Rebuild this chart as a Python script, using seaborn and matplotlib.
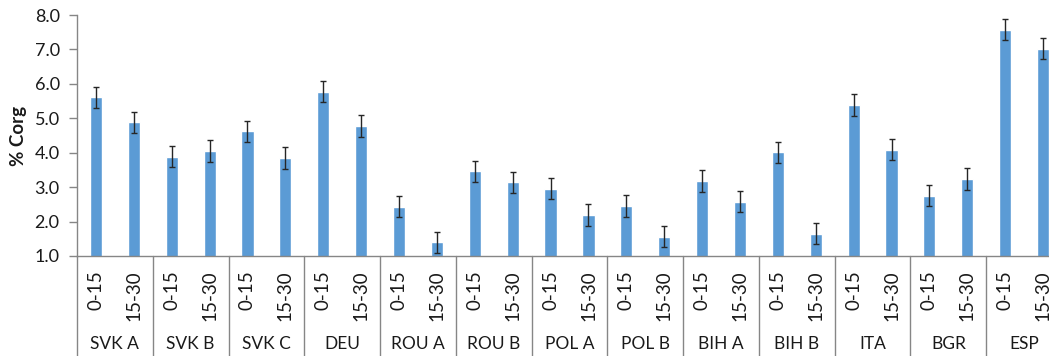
import numpy as np
import pandas as pd
import matplotlib
matplotlib.use("Agg")
import matplotlib.pyplot as plt
import matplotlib.transforms as mtrans
import seaborn as sns

sites = ["SVK A", "SVK B", "SVK C", "DEU", "ROU A", "ROU B", "POL A",
         "POL B", "BIH A", "BIH B", "ITA", "BGR", "ESP"]
depths = ["0-15", "15-30"]
corg_0_15 = [5.61, 3.89, 4.62, 5.77, 2.43, 3.46, 2.96, 2.45, 3.18, 4.01, 5.39, 2.75, 7.57]
corg_15_30 = [4.88, 4.05, 3.85, 4.78, 1.40, 3.14, 2.19, 1.56, 2.58, 1.65, 4.09, 3.24, 7.02]
err_0_15 = [0.31, 0.31, 0.31, 0.31, 0.31, 0.31, 0.31, 0.31, 0.31, 0.31, 0.31, 0.31, 0.31]
err_15_30 = [0.31, 0.31, 0.31, 0.31, 0.31, 0.31, 0.31, 0.31, 0.31, 0.31, 0.31, 0.31, 0.31]
yticks = [1.0, 2.0, 3.0, 4.0, 5.0, 6.0, 7.0, 8.0]

rows = []
for i, s in enumerate(sites):
    rows.append({"site": s, "depth": depths[0], "corg": corg_0_15[i], "err": err_0_15[i]})
    rows.append({"site": s, "depth": depths[1], "corg": corg_15_30[i], "err": err_15_30[i]})
df = pd.DataFrame(rows)
df["key"] = df["site"] + "|" + df["depth"]

sns.set_theme(style="white")
plt.rcParams["font.family"] = ["Lato", "DejaVu Sans"]

W, H = 1049, 356
fig = plt.figure(figsize=(W / 100, H / 100), dpi=100)
ax = fig.add_axes([77 / W, 100 / H, 985 / W, 241 / H])

sns.barplot(data=df, x="key", y="corg", color="#5B9BD5", saturation=1,
            width=0.32, errorbar=None, ax=ax)
xpos = np.arange(len(df))
ax.errorbar(xpos, df["corg"], yerr=df["err"], fmt="none", ecolor="#262626",
            elinewidth=1.0, capsize=2.3, capthick=1.0, zorder=5)

ax.set_xlim(-0.5, len(df) - 0.5)
ax.set_ylim(yticks[0], yticks[-1])
ax.set_yticks(yticks)
ax.set_yticklabels([f"{v:.1f}" for v in yticks], fontsize=13, color="#1a1a1a")
ax.set_xticks(xpos)
ax.set_xticklabels(df["depth"], rotation=90, ha="center", va="top",
                   fontsize=13.5, color="#1a1a1a")
ax.tick_params(axis="x", length=0, pad=10)
ax.tick_params(axis="y", length=5.5, width=1, color="#868686", pad=7, left=True)
ax.set_xlabel("")
ax.set_ylabel("% Corg", fontsize=13.5, fontweight="bold", color="#1a1a1a")
ax.yaxis.set_label_coords(-50 / 985, 0.5)

for sp in ["top", "right"]:
    ax.spines[sp].set_visible(False)
for sp in ["left", "bottom"]:
    ax.spines[sp].set_color("#868686")
    ax.spines[sp].set_linewidth(1)

blend = mtrans.blended_transform_factory(ax.transData, ax.transAxes)
for b in range(len(sites) + 1):
    xb = b * 2 - 0.5
    ax.plot([xb, xb], [0, -0.5], transform=blend, color="#868686", lw=1,
            clip_on=False)
for i, s in enumerate(sites):
    ax.text(i * 2 + 0.5, -0.365, s, transform=blend, ha="center", va="center",
            fontsize=12.5, color="#1a1a1a")

fig.savefig("out.png", dpi=100)
